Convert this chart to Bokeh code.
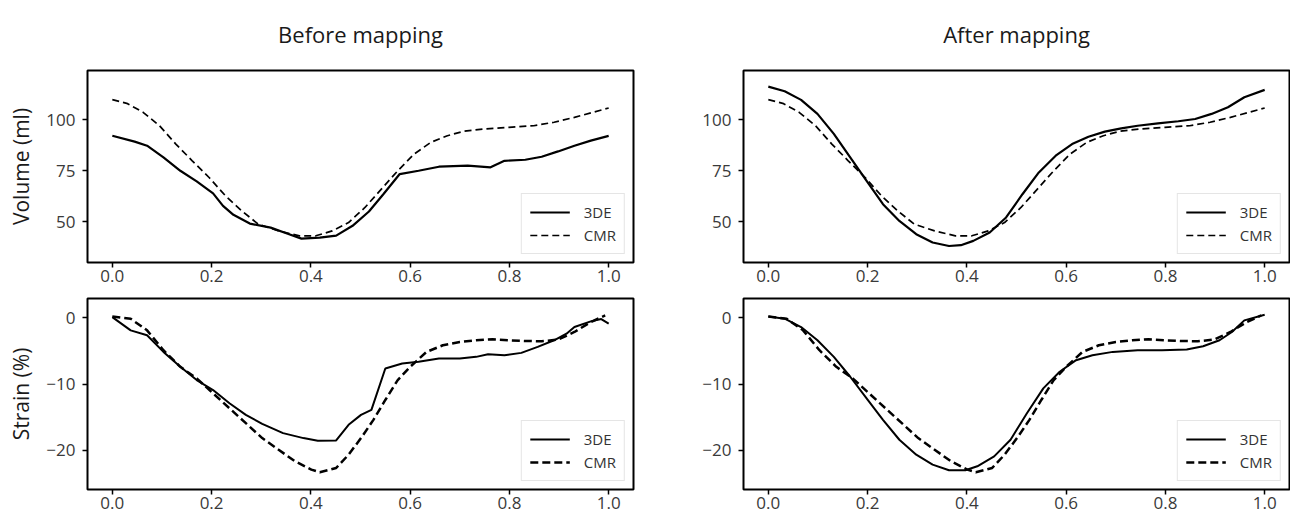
from bokeh.plotting import figure
from bokeh.models import Range1d, FixedTicker, Legend, LegendItem, ColumnDataSource
from bokeh.core.properties import value
from bokeh.layouts import column, row
from bokeh.embed import file_html
from bokeh.resources import INLINE

# ---------------- data ----------------
panel_titles = ["Before mapping", "After mapping"]
y_labels = ["Volume (ml)", "Strain (%)"]
series_names = ["3DE", "CMR"]

x_ticks = [0.0, 0.2, 0.4, 0.6, 0.8, 1.0]
x_tick_labels = ["0.0", "0.2", "0.4", "0.6", "0.8", "1.0"]
vol_ticks = [50, 75, 100]
vol_tick_labels = ["50", "75", "100"]
str_ticks = [-20, -10, 0]
str_tick_labels = ["\u221220", "\u221210", "0"]

vol_x_3de_before = [0, 0.045, 0.07, 0.103, 0.137, 0.17, 0.203, 0.223, 0.244, 0.277, 0.319, 0.352,
                    0.381, 0.418, 0.451, 0.484, 0.517, 0.546, 0.579, 0.617, 0.658, 0.716, 0.762,
                    0.79, 0.832, 0.865, 0.898, 0.931, 0.964, 1.0]
vol_3de_before = [92.1, 89.2, 87.2, 81.5, 74.9, 69.7, 63.8, 57.7, 53.3, 49.0, 47.0, 44.1,
                  41.6, 42.1, 43.1, 47.9, 54.9, 63.4, 73.3, 74.9, 76.9, 77.4, 76.6,
                  79.8, 80.3, 81.8, 84.4, 87.2, 89.7, 92.0]

vol_x_cmr = [0, 0.029, 0.062, 0.095, 0.128, 0.161, 0.195, 0.228, 0.261, 0.294, 0.335, 0.377,
             0.41, 0.443, 0.476, 0.509, 0.542, 0.575, 0.608, 0.642, 0.675, 0.708, 0.749,
             0.799, 0.849, 0.89, 0.931, 0.964, 1.0]
vol_cmr = [109.8, 108.0, 103.6, 97.0, 88.0, 79.8, 71.6, 62.6, 55.2, 48.7, 45.4, 43.0,
           43.0, 45.4, 49.5, 56.9, 65.9, 74.9, 83.1, 88.9, 92.1, 94.3, 95.4,
           96.2, 97.0, 98.7, 101.1, 103.3, 105.7]

vol_x_3de_after = [0, 0.033, 0.066, 0.099, 0.132, 0.165, 0.198, 0.231, 0.264, 0.298, 0.331, 0.364,
                   0.388, 0.413, 0.446, 0.479, 0.512, 0.545, 0.579, 0.612, 0.645, 0.678, 0.711,
                   0.744, 0.785, 0.826, 0.86, 0.893, 0.926, 0.959, 1.0]
vol_3de_after = [116.2, 113.9, 109.7, 102.8, 93.0, 81.5, 70.0, 58.5, 50.3, 43.8, 39.7, 38.0,
                 38.4, 40.5, 44.6, 52.0, 63.4, 74.1, 82.3, 88.0, 91.6, 94.1, 95.7,
                 97.0, 98.2, 99.2, 100.3, 102.8, 106.1, 111.0, 114.6]

str_x_3de_before = [0, 0.037, 0.07, 0.103, 0.137, 0.17, 0.203, 0.236, 0.269, 0.302, 0.344, 0.385,
                    0.414, 0.451, 0.476, 0.501, 0.522, 0.55, 0.584, 0.617, 0.658, 0.7, 0.733,
                    0.757, 0.79, 0.824, 0.857, 0.89, 0.915, 0.931, 0.964, 0.985, 1.0]
str_3de_before = [0.1, -1.9, -2.65, -5.15, -7.4, -9.4, -10.9, -12.9, -14.65, -16.0, -17.4, -18.15,
                  -18.55, -18.5, -16.15, -14.65, -13.9, -7.65, -6.9, -6.65, -6.15, -6.15, -5.9,
                  -5.5, -5.65, -5.3, -4.4, -3.4, -2.4, -1.4, -0.55, -0.2, -0.9]

str_x_cmr = [0, 0.037, 0.07, 0.103, 0.137, 0.17, 0.203, 0.236, 0.269, 0.302, 0.335, 0.368,
             0.401, 0.418, 0.451, 0.476, 0.501, 0.526, 0.55, 0.575, 0.6, 0.633, 0.666,
             0.7, 0.733, 0.766, 0.799, 0.832, 0.865, 0.898, 0.931, 0.964, 0.993]
str_cmr = [0.2, -0.15, -1.9, -4.9, -7.4, -9.15, -11.4, -13.65, -15.9, -18.15, -19.9, -21.65,
           -22.9, -23.3, -22.65, -20.65, -18.15, -15.4, -12.4, -9.4, -7.4, -5.15, -4.15,
           -3.65, -3.4, -3.25, -3.4, -3.5, -3.55, -3.3, -2.15, -0.65, 0.35]

str_x_3de_after = [0, 0.033, 0.066, 0.099, 0.132, 0.165, 0.198, 0.231, 0.264, 0.298, 0.331, 0.364,
                   0.397, 0.421, 0.455, 0.488, 0.521, 0.554, 0.587, 0.62, 0.653, 0.694, 0.744,
                   0.793, 0.843, 0.876, 0.909, 0.934, 0.959, 1.0]
str_3de_after = [0.2, -0.15, -1.4, -3.4, -5.9, -8.9, -12.15, -15.4, -18.4, -20.65, -22.15, -23.0,
                 -23.0, -22.4, -20.9, -18.4, -14.4, -10.65, -8.15, -6.4, -5.65, -5.15, -4.9,
                 -4.9, -4.8, -4.3, -3.4, -2.15, -0.4, 0.45]

# ---------------- styling ----------------
FONT = "Open Sans"
FW, FH_TOP, FH_BOT = 546, 192, 191
TITLE_H = 62
X_RANGE = (-0.05, 1.05)


def make_title_fig(text, mbl, mbr):
    # a thin figure without axes that only carries the panel title
    p = figure(frame_width=FW, frame_height=TITLE_H,
               x_range=Range1d(*X_RANGE), y_range=Range1d(0, TITLE_H),
               x_axis_type=None, y_axis_type=None,
               output_backend="svg", toolbar_location=None, title=None,
               min_border_left=mbl, min_border_right=mbr,
               min_border_top=0, min_border_bottom=0,
               background_fill_color="white", border_fill_color="white")
    p.outline_line_color = None
    p.xgrid.visible = False
    p.ygrid.visible = False
    src = ColumnDataSource(dict(x=[0.5], y=[TITLE_H - 33], t=[text]))
    p.text(x="x", y="y", text="t", source=src, text_align="center",
           text_baseline="alphabetic", text_font=value(FONT),
           text_font_size="22px", text_color="#1a1a1a")
    return p


def make_fig(yr, yticks, ylabels, mbl, mbr, mbt, mbb, fh, ylabel=None):
    p = figure(frame_width=FW, frame_height=fh,
               x_range=Range1d(*X_RANGE), y_range=Range1d(*yr),
               output_backend="svg", toolbar_location=None, title=None,
               min_border_left=mbl, min_border_right=mbr,
               min_border_top=mbt, min_border_bottom=mbb,
               background_fill_color="white", border_fill_color="white")
    p.outline_line_color = "black"
    p.outline_line_width = 2
    p.outline_line_alpha = 1
    p.xgrid.visible = False
    p.ygrid.visible = False
    for ax in (p.below[0], p.left[0]):
        ax.axis_line_color = None
        ax.major_tick_in = 0
        ax.major_tick_out = 5
        ax.major_tick_line_color = "black"
        ax.major_tick_line_width = 1.5
        ax.minor_tick_line_color = None
        ax.major_label_text_font = FONT
        ax.major_label_text_font_size = "17px"
        ax.major_label_text_color = "#3a3a3a"
    xa, ya = p.below[0], p.left[0]
    xa.ticker = FixedTicker(ticks=x_ticks)
    xa.major_label_overrides = dict(zip(x_ticks, x_tick_labels))
    xa.major_label_standoff = 2
    ya.ticker = FixedTicker(ticks=yticks)
    ya.major_label_overrides = dict(zip(yticks, ylabels))
    ya.major_label_standoff = 7
    if ylabel is not None:
        ya.axis_label = ylabel
        ya.axis_label_text_font = FONT
        ya.axis_label_text_font_size = "21px"
        ya.axis_label_text_font_style = "normal"
        ya.axis_label_text_color = "#1a1a1a"
        ya.axis_label_standoff = 8
    return p


def add_lines(p, xs1, ys1, xs2, ys2, w1, w2, dash):
    r1 = p.line(xs1, ys1, line_color="black", line_width=w1)
    r2 = p.line(xs2, ys2, line_color="black", line_width=w2, line_dash=dash)
    leg = Legend(items=[LegendItem(label=series_names[0], renderers=[r1]),
                        LegendItem(label=series_names[1], renderers=[r2])],
                 location="bottom_right")
    leg.margin = 8
    leg.padding = 8
    leg.spacing = 3
    leg.glyph_width = 40
    leg.glyph_height = 20
    leg.label_height = 20
    leg.label_standoff = 14
    leg.label_text_font = FONT
    leg.label_text_font_size = "15px"
    leg.label_text_color = "#333333"
    leg.border_line_color = "#cccccc"
    leg.border_line_width = 1
    leg.background_fill_color = "white"
    leg.background_fill_alpha = 0.9
    p.add_layout(leg)


VOL_RANGE = (29.9, 124.1)
STR_RANGE = (-25.9, 2.9)

t1 = make_title_fig(panel_titles[0], 87, 30)
t2 = make_title_fig(panel_titles[1], 80, 1)

p1 = make_fig(VOL_RANGE, vol_ticks, vol_tick_labels, 87, 30, 70 - TITLE_H, 30, FH_TOP,
              ylabel=y_labels[0])
add_lines(p1, vol_x_3de_before, vol_3de_before, vol_x_cmr, vol_cmr, 2.2, 1.7, "7 4")

p2 = make_fig(VOL_RANGE, vol_ticks, vol_tick_labels, 80, 1, 70 - TITLE_H, 30, FH_TOP)
add_lines(p2, vol_x_3de_after, vol_3de_after, vol_x_cmr, vol_cmr, 2.2, 1.7, "7 4")

p3 = make_fig(STR_RANGE, str_ticks, str_tick_labels, 87, 30, 6, 32, FH_BOT,
              ylabel=y_labels[1])
add_lines(p3, str_x_3de_before, str_3de_before, str_x_cmr, str_cmr, 2.0, 2.5, "8 4")

p4 = make_fig(STR_RANGE, str_ticks, str_tick_labels, 80, 1, 6, 32, FH_BOT)
add_lines(p4, str_x_3de_after, str_3de_after, str_x_cmr, str_cmr, 2.0, 2.5, "8 4")

layout = column(row(t1, t2), row(p1, p2), row(p3, p4))

with open("out.html", "w") as f:
    f.write(file_html(layout, INLINE))
